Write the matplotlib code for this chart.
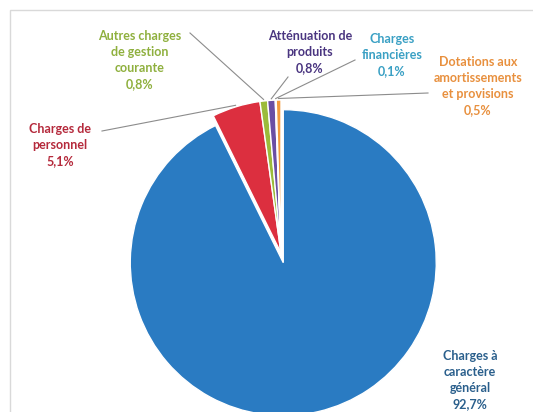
import numpy as np
import matplotlib.pyplot as plt
from matplotlib.patches import Rectangle

# data
labels = ["Charges à\ncaractère\ngénéral", "Charges de\npersonnel",
          "Autres charges\nde gestion\ncourante", "Atténuation de\nproduits",
          "Charges\nfinancières", "Dotations aux\namortissements\net provisions"]
values = [92.7, 5.1, 0.8, 0.8, 0.1, 0.5]
pct_text = ["92,7%", "5,1%", "0,8%", "0,8%", "0,1%", "0,5%"]
colors = ["#2a7bc2", "#dc2f3f", "#9bbb3a", "#6a4fa3", "#2fa8cf", "#f39a3c"]
text_colors = ["#2a5f8c", "#b52a3c", "#8fb03e", "#4a3580", "#3aa0c4", "#e8903e"]

W, H = 533, 412
cx, cy, R = 281, 253, 153  # pie centre / radius in pixels

def px(x, y):
    return (x - cx) / R, (cy - y) / R

fig = plt.figure(figsize=(W / 100, H / 100), dpi=100)
ax = fig.add_axes([0, 0, 1, 1])

wedges, _ = ax.pie(values, colors=colors, startangle=90, counterclock=False,
                   explode=[0.065, 0, 0, 0, 0, 0], radius=1.0,
                   wedgeprops=dict(edgecolor="white", linewidth=1.0))
ax.set_aspect("auto")
ax.set_xlim(-cx / R, (W - cx) / R)
ax.set_ylim(-(H - cy) / R, cy / R)
ax.axis("off")

# chart frame
x0, y0 = px(10, 10)
x1, y1 = px(W + 5, H + 5)
ax.add_patch(Rectangle((x0, y1), x1 - x0, y0 - y1, fill=False,
                       ec="#d9d9d9", lw=1.0, zorder=0))

# label positions (px) and where the leader line starts (px)
label_pos = [(470, 380), (60, 145), (140, 60), (310, 52), (392, 55), (478, 86)]
line_start = [None, (102, 131), (190, 33), (288, 77), (355, 60), (428, 93)]

for i, w in enumerate(wedges):
    lx, ly = px(*label_pos[i])
    ax.text(lx, ly, labels[i] + "\n" + pct_text[i], ha="center", va="center",
            color=text_colors[i], fontsize=9, fontweight="bold",
            family="Lato", linespacing=1.4)
    if line_start[i] is not None:
        ang = np.deg2rad((w.theta1 + w.theta2) / 2)
        ex, ey = np.cos(ang) * 1.01, np.sin(ang) * 1.01
        sx, sy = px(*line_start[i])
        ax.plot([sx, ex], [sy, ey], color="#8c8c8c", lw=0.8, zorder=1)

fig.savefig("out.png", dpi=100)
